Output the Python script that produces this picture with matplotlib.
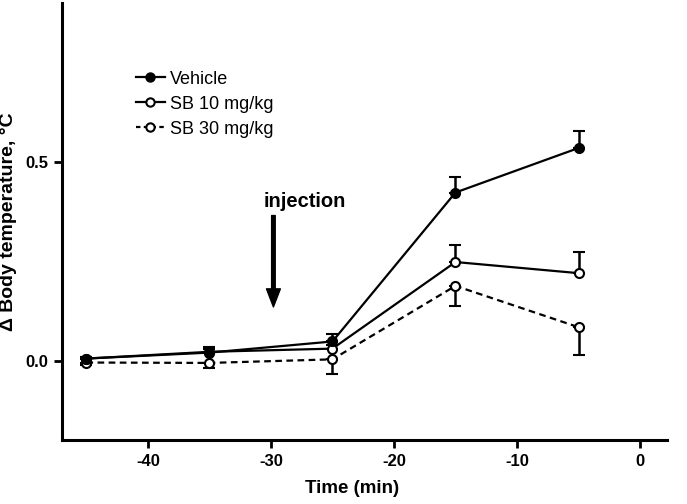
import matplotlib
matplotlib.use("Agg")
import matplotlib.pyplot as plt
from matplotlib.lines import Line2D

plt.rcParams['font.family'] = ['Liberation Sans', 'DejaVu Sans']

# data
time_min = [-45, -35, -25, -15, -5]
vehicle = [0.005, 0.02, 0.048, 0.423, 0.535]
vehicle_err = [0.005, 0.01, 0.018, 0.038, 0.042]
sb10 = [0.005, 0.022, 0.03, 0.248, 0.22]
sb10_err = [0.005, 0.012, 0.01, 0.043, 0.054]
sb30 = [-0.005, -0.006, 0.003, 0.188, 0.084]
sb30_err = [0.005, 0.013, 0.036, 0.05, 0.07]
xticks = [-40, -30, -20, -10, 0]
yticks = [0.0, 0.5]

fig = plt.figure(figsize=(6.87, 5.04), dpi=100)
ax = fig.add_axes([0.09, 0.127, 0.881, 0.867])

kw = dict(color='black', lw=1.6, ms=6.5, mew=1.5, capsize=4, capthick=1.8, elinewidth=1.8)

# one-sided error bars, as in the original
ax.errorbar(time_min, sb30, yerr=[sb30_err, [0] * 5], ls=(0, (3, 2)), marker='o',
            mfc='white', zorder=2, **kw)
ax.errorbar(time_min, sb10, yerr=[[0] * 5, sb10_err], ls='-', marker='o',
            mfc='white', zorder=3, **kw)
ax.errorbar(time_min, vehicle, yerr=[[0] * 5, vehicle_err], ls='-', marker='o',
            mfc='black', zorder=4, **kw)

ax.set_xlim(-47, 2.2)
ax.set_ylim(-0.2, 0.9)
ax.set_xticks(xticks)
ax.set_xticklabels([str(t) for t in xticks])
ax.set_yticks(yticks)
ax.set_yticklabels(['0.0', '0.5'])

for s in ['top', 'right']:
    ax.spines[s].set_visible(False)
for s in ['left', 'bottom']:
    ax.spines[s].set_linewidth(2.2)
ax.tick_params(width=2, length=6, labelsize=12, direction='out', pad=4)
for lbl in ax.get_xticklabels() + ax.get_yticklabels():
    lbl.set_fontweight('bold')

ax.set_xlabel('Time (min)', fontsize=13.5, fontweight='bold')
ax.xaxis.set_label_coords(0.479, -0.092)
ax.set_ylabel('Δ Body temperature, °C', fontsize=14, fontweight='bold', labelpad=6)

# injection marker
ax.annotate('', xy=(-29.8, 0.135), xytext=(-29.8, 0.365),
            arrowprops=dict(width=2.6, headwidth=10, headlength=13, color='black', shrink=0))
ax.text(-30.6, 0.4, 'injection', fontsize=14.5, fontweight='bold', ha='left', va='center')

handles = [
    Line2D([], [], color='black', lw=1.6, marker='o', ms=6, mfc='black', mew=1.5),
    Line2D([], [], color='black', lw=1.6, marker='o', ms=6, mfc='white', mew=1.5),
    Line2D([], [], color='black', lw=1.6, ls=(0, (2, 1.5)), marker='o', ms=6, mfc='white', mew=1.5),
]
labels = ['Vehicle', 'SB 10 mg/kg', 'SB 30 mg/kg']
ax.legend(handles, labels, loc='upper left', bbox_to_anchor=(0.11, 0.862),
          frameon=False, fontsize=13, handlelength=1.6, handletextpad=0.3,
          labelspacing=0.45, borderaxespad=0)

fig.savefig('out.png', dpi=100)
